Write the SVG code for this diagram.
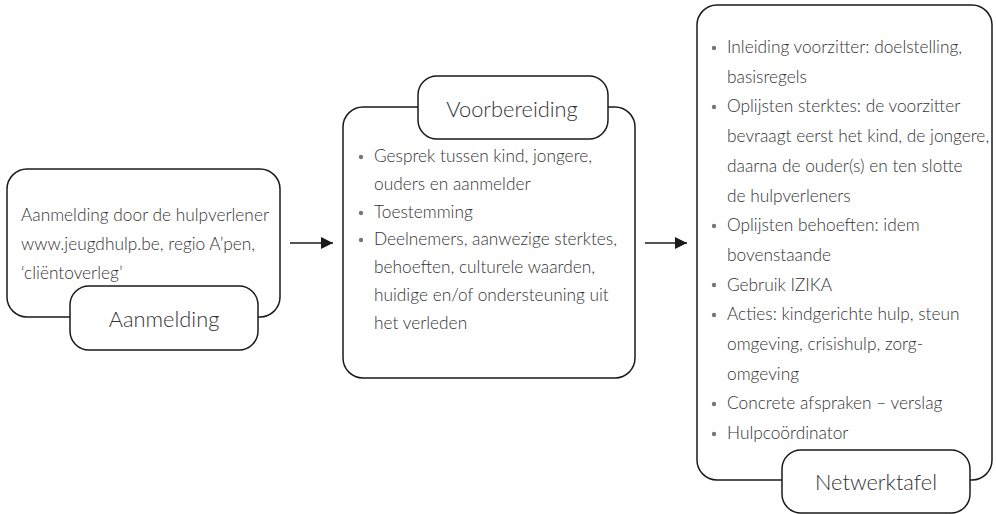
<svg xmlns="http://www.w3.org/2000/svg" width="996" height="514" viewBox="0 0 996 514">
<defs>
<style>
.box{fill:#fff;stroke:#1a1a1a;stroke-width:1.5}
.lbl{fill:#fff;stroke:#1a1a1a;stroke-width:1.5}
.t{font-family:Lato,"Open Sans","Liberation Sans",sans-serif;font-weight:300;font-size:17.3px;fill:#333}
.h{font-family:Lato,"Open Sans","Liberation Sans",sans-serif;font-weight:300;font-size:21.8px;fill:#333;text-anchor:middle}
.b{fill:#777}
.c{stroke:#1a1a1a;stroke-width:1.5;fill:none}
</style>
<marker id="ah" viewBox="0 0 12 12" refX="12" refY="6" markerWidth="12" markerHeight="12" markerUnits="userSpaceOnUse" orient="auto">
<path d="M0,0 L12,6 L0,12 Z" fill="#1a1a1a"/>
</marker>
</defs>
<g id="aanmelding">
<rect class="box" x="7" y="169" width="273" height="148" rx="20"/>
<text class="t" x="21" y="221">Aanmelding door de hulpverlener</text>
<text class="t" x="21" y="250">www.jeugdhulp.be, regio A’pen,</text>
<text class="t" x="21" y="279">‘cliëntoverleg’</text>
<rect class="lbl" x="70" y="286" width="188" height="64" rx="19"/>
<text class="h" x="164" y="327">Aanmelding</text>
</g>
<g id="voorbereiding">
<rect class="box" x="343" y="107" width="292" height="271" rx="20"/>
<rect class="lbl" x="418" y="76" width="190" height="63" rx="19"/>
<text class="h" x="512" y="117">Voorbereiding</text>
<circle class="b" cx="361" cy="157" r="2.2"/>
<circle class="b" cx="361" cy="213" r="2.2"/>
<circle class="b" cx="361" cy="240" r="2.2"/>
<text class="t" x="374" y="162">Gesprek tussen kind, jongere,</text>
<text class="t" x="374" y="190">ouders en aanmelder</text>
<text class="t" x="374" y="218">Toestemming</text>
<text class="t" x="374" y="245">Deelnemers, aanwezige sterktes,</text>
<text class="t" x="374" y="273">behoeften, culturele waarden,</text>
<text class="t" x="374" y="301">huidige en/of ondersteuning uit</text>
<text class="t" x="374" y="329">het verleden</text>
</g>
<g id="netwerktafel">
<rect class="box" x="697" y="5" width="295" height="475" rx="20"/>
<circle class="b" cx="714" cy="48" r="2.2"/>
<circle class="b" cx="714" cy="107" r="2.2"/>
<circle class="b" cx="714" cy="226" r="2.2"/>
<circle class="b" cx="714" cy="285" r="2.2"/>
<circle class="b" cx="714" cy="315" r="2.2"/>
<circle class="b" cx="714" cy="404" r="2.2"/>
<circle class="b" cx="714" cy="434" r="2.2"/>
<text class="t" x="727" y="53">Inleiding voorzitter: doelstelling,</text>
<text class="t" x="727" y="83">basisregels</text>
<text class="t" x="727" y="112">Oplijsten sterktes: de voorzitter</text>
<text class="t" x="727" y="142">bevraagt eerst het kind, de jongere,</text>
<text class="t" x="727" y="172">daarna de ouder(s) en ten slotte</text>
<text class="t" x="727" y="202">de hulpverleners</text>
<text class="t" x="727" y="231">Oplijsten behoeften: idem</text>
<text class="t" x="727" y="261">bovenstaande</text>
<text class="t" x="727" y="291">Gebruik IZIKA</text>
<text class="t" x="727" y="320">Acties: kindgerichte hulp, steun</text>
<text class="t" x="727" y="350">omgeving, crisishulp, zorg-</text>
<text class="t" x="727" y="380">omgeving</text>
<text class="t" x="727" y="409">Concrete afspraken – verslag</text>
<text class="t" x="727" y="439">Hulpcoördinator</text>
<rect class="lbl" x="782" y="450" width="188" height="63" rx="19"/>
<text class="h" x="876" y="490">Netwerktafel</text>
</g>
<g id="connectors">
<line class="c" x1="290" y1="243" x2="333" y2="243" marker-end="url(#ah)"/>
<line class="c" x1="645" y1="243" x2="687" y2="243" marker-end="url(#ah)"/>
</g>
</svg>
